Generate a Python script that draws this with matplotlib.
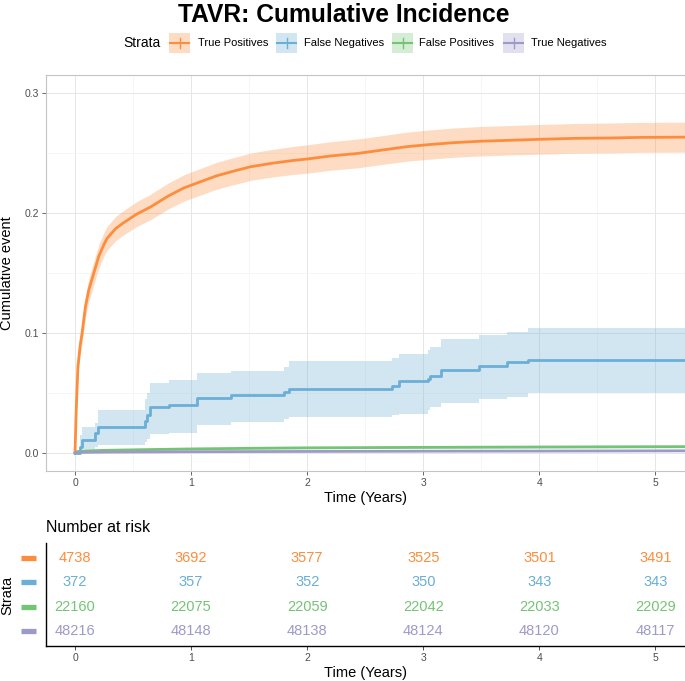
import matplotlib
matplotlib.use("Agg")
import matplotlib.pyplot as plt
from matplotlib.patches import Rectangle
from matplotlib.lines import Line2D

plt.rcParams['font.family'] = ['Liberation Sans', 'DejaVu Sans']

# ---- data ----
strata = ["True Positives", "False Negatives", "False Positives", "True Negatives"]
colors = ["#FD8D3C", "#6BAED6", "#74C476", "#9E9AC8"]

tp_t = [0, 0.01, 0.025, 0.045, 0.061, 0.09, 0.119, 0.162, 0.205, 0.25, 0.277, 0.35,
        0.42, 0.53, 0.65, 0.8, 0.94, 1.08, 1.22, 1.37, 1.51, 1.7, 1.88, 2.0, 2.2,
        2.44, 2.65, 2.86, 3.05, 3.26, 3.49, 3.75, 4.0, 4.3, 4.6, 4.87, 5.25]
tp_y = [0, 0.035, 0.072, 0.09, 0.1, 0.122, 0.136, 0.15, 0.164, 0.174, 0.179, 0.187,
        0.192, 0.199, 0.205, 0.214, 0.221, 0.226, 0.231, 0.235, 0.2385, 0.2415, 0.2438,
        0.245, 0.2475, 0.2497, 0.2525, 0.2553, 0.257, 0.2586, 0.2598, 0.2606, 0.2614,
        0.2622, 0.2625, 0.263, 0.2632]
tp_lo = [0, 0.031, 0.065, 0.082, 0.0915, 0.113, 0.1265, 0.1403, 0.1542, 0.1641, 0.169,
         0.1769, 0.1818, 0.1886, 0.1944, 0.2032, 0.21, 0.2149, 0.2198, 0.2237, 0.2271,
         0.23, 0.2321, 0.2332, 0.2356, 0.2377, 0.2405, 0.2432, 0.2448, 0.2464, 0.2475,
         0.2483, 0.249, 0.2498, 0.25, 0.2505, 0.2507]
tp_hi = [0, 0.039, 0.079, 0.098, 0.1085, 0.131, 0.1455, 0.1597, 0.1738, 0.1839, 0.189,
         0.1971, 0.2022, 0.2094, 0.2156, 0.2248, 0.232, 0.2371, 0.2422, 0.2463, 0.2499,
         0.253, 0.2555, 0.2568, 0.2594, 0.2617, 0.2645, 0.2674, 0.2692, 0.2708, 0.2721,
         0.2729, 0.2738, 0.2746, 0.275, 0.2755, 0.2757]

fn_t = [0, 0.04, 0.06, 0.17, 0.2, 0.6, 0.62, 0.65, 0.81, 1.055, 1.34, 1.8, 1.84,
        2.73, 2.79, 3.04, 3.06, 3.155, 3.476, 3.72, 3.9, 5.25]
fn_y = [0, 0.0054, 0.011, 0.0165, 0.0215, 0.027, 0.032, 0.038, 0.0403, 0.0456, 0.048,
        0.051, 0.0536, 0.056, 0.0597, 0.062, 0.0644, 0.0694, 0.0728, 0.0756, 0.0778, 0.0778]
fn_lo = [0, 0.001, 0.003, 0.005, 0.007, 0.009, 0.012, 0.016, 0.017, 0.0236, 0.026,
         0.028, 0.030, 0.0315, 0.0325, 0.036, 0.0386, 0.0414, 0.045, 0.047, 0.05, 0.05]
fn_hi = [0, 0.015, 0.022, 0.025, 0.036, 0.045, 0.05, 0.058, 0.061, 0.067, 0.068,
         0.072, 0.0765, 0.079, 0.0825, 0.086, 0.0886, 0.095, 0.098, 0.101, 0.1045, 0.1045]

fp_t = [0, 0.02, 0.1, 0.3, 0.6, 1.0, 1.5, 2.0, 3.0, 4.0, 5.25]
fp_y = [0, 0.0012, 0.0018, 0.0023, 0.0028, 0.0034, 0.0039, 0.0043, 0.0047, 0.005, 0.0053]
fp_lo = [0, 0.0008, 0.0013, 0.0018, 0.0022, 0.0028, 0.0032, 0.0036, 0.0039, 0.0042, 0.0044]
fp_hi = [0, 0.0016, 0.0023, 0.0028, 0.0034, 0.0040, 0.0046, 0.0050, 0.0055, 0.0058, 0.0062]

tn_t = [0, 0.02, 0.1, 0.3, 0.6, 1.0, 1.5, 2.0, 3.0, 4.0, 5.25]
tn_y = [0, 0.0004, 0.0006, 0.0008, 0.0009, 0.0011, 0.0012, 0.0013, 0.0015, 0.0016, 0.0018]
tn_lo = [0, 0.0002, 0.0004, 0.0006, 0.0007, 0.0008, 0.0009, 0.001, 0.0012, 0.0013, 0.0014]
tn_hi = [0, 0.0006, 0.0008, 0.001, 0.0011, 0.0014, 0.0015, 0.0016, 0.0018, 0.0019, 0.0022]

risk_times = [0, 1, 2, 3, 4, 5]
risk_tp = [4738, 3692, 3577, 3525, 3501, 3491]
risk_fn = [372, 357, 352, 350, 343, 343]
risk_fp = [22160, 22075, 22059, 22042, 22033, 22029]
risk_tn = [48216, 48148, 48138, 48124, 48120, 48117]

W, H = 685, 681


def fx(px):
    return px / W


def fy(py):
    return 1 - py / H


fig = plt.figure(figsize=(W / 100, H / 100), dpi=100)

# ---- main panel ----
ax = fig.add_axes([fx(46), fy(471), fx(684.5) - fx(46), fy(75) - fy(471)])
curves = [
    (tp_t, tp_y, tp_lo, tp_hi, False),
    (fn_t, fn_y, fn_lo, fn_hi, True),
    (fp_t, fp_y, fp_lo, fp_hi, False),
    (tn_t, tn_y, tn_lo, tn_hi, False),
]
for (t, y, lo, hi, step), c in zip(curves, colors):
    if step:
        ax.fill_between(t, lo, hi, step="post", color=c, alpha=0.3, lw=0)
        ax.plot(t, y, drawstyle="steps-post", color=c, lw=2.0)
    else:
        ax.fill_between(t, lo, hi, color=c, alpha=0.3, lw=0)
        ax.plot(t, y, color=c, lw=2.0)

ax.set_xlim(-0.25, 5.25)
ax.set_ylim(-0.015, 0.315)
ax.set_xticks(range(6))
ax.set_xticks([0.5, 1.5, 2.5, 3.5, 4.5], minor=True)
ax.set_yticks([0, 0.1, 0.2, 0.3])
ax.set_yticklabels(["0.0", "0.1", "0.2", "0.3"])
ax.set_yticks([0.05, 0.15, 0.25], minor=True)
ax.grid(which="major", color="#E6E6E6", lw=0.7)
ax.grid(which="minor", color="#F2F2F2", lw=0.45)
ax.set_axisbelow(True)
ax.tick_params(which="major", length=3, width=0.6, color="#4D4D4D",
               labelsize=7.5, labelcolor="#4D4D4D", pad=2)
ax.tick_params(which="minor", length=0)
for s in ax.spines.values():
    s.set_color("#C4C4C4")
    s.set_linewidth(0.8)
ax.set_xlabel("Time (Years)", fontsize=10.5, labelpad=2)
fig.text(fx(7), fy(273), "Cumulative event", rotation=90, ha="center", va="center",
         fontsize=10.5)

# ---- title and legend ----
fig.text(fx(344), fy(22), "TAVR: Cumulative Incidence", ha="center", va="baseline",
         fontsize=17.7, fontweight="bold")
fig.text(fx(123), fy(43), "Strata", ha="left", va="center", fontsize=10)
key_x = [169, 276, 392, 503]
lab_x = [198, 304, 419, 531]
for name, c, kx, lx in zip(strata, colors, key_x, lab_x):
    fig.add_artist(Rectangle((fx(kx), fy(53)), fx(21), fy(33) - fy(53),
                             transform=fig.transFigure, facecolor=c, alpha=0.3, lw=0))
    fig.add_artist(Line2D([fx(kx + 1), fx(kx + 20)], [fy(43), fy(43)],
                          transform=fig.transFigure, color=c, lw=1.5))
    fig.add_artist(Line2D([fx(kx + 10.5), fx(kx + 10.5)], [fy(38), fy(48)],
                          transform=fig.transFigure, color=c, lw=1.0))
    fig.text(fx(lx), fy(43), name, ha="left", va="center", fontsize=8)

# ---- risk table ----
ax2 = fig.add_axes([fx(46), fy(646), fx(684.5) - fx(46), fy(543) - fy(646)])
ax2.set_xlim(-0.25, 5.25)
ax2.set_ylim(0.4, 4.6)
rows = [risk_tp, risk_fn, risk_fp, risk_tn]
for i, (vals, c) in enumerate(zip(rows, colors)):
    ypos = 4 - i
    for t, n in zip(risk_times, vals):
        ax2.text(t, ypos, str(n), ha="center", va="center", color=c, fontsize=10.5)
    ax2.plot([-0.0396, -0.0157], [ypos, ypos], transform=ax2.get_yaxis_transform(),
             clip_on=False, lw=3.8, color=c, solid_capstyle="butt")
ax2.set_xticks(risk_times)
ax2.set_yticks([])
ax2.spines["top"].set_visible(False)
ax2.spines["right"].set_visible(False)
ax2.spines["left"].set_linewidth(1.0)
ax2.spines["bottom"].set_linewidth(1.0)
ax2.tick_params(axis="x", length=3, width=0.6, color="#333333", labelsize=7.5,
                labelcolor="#4D4D4D", pad=2)
ax2.set_xlabel("Time (Years)", fontsize=10.5, labelpad=2)
fig.text(fx(46), fy(527), "Number at risk", ha="left", va="center", fontsize=11.5)
fig.text(fx(7), fy(595), "Strata", rotation=90, ha="center", va="center", fontsize=10.5)

fig.savefig("out.png", dpi=100)
